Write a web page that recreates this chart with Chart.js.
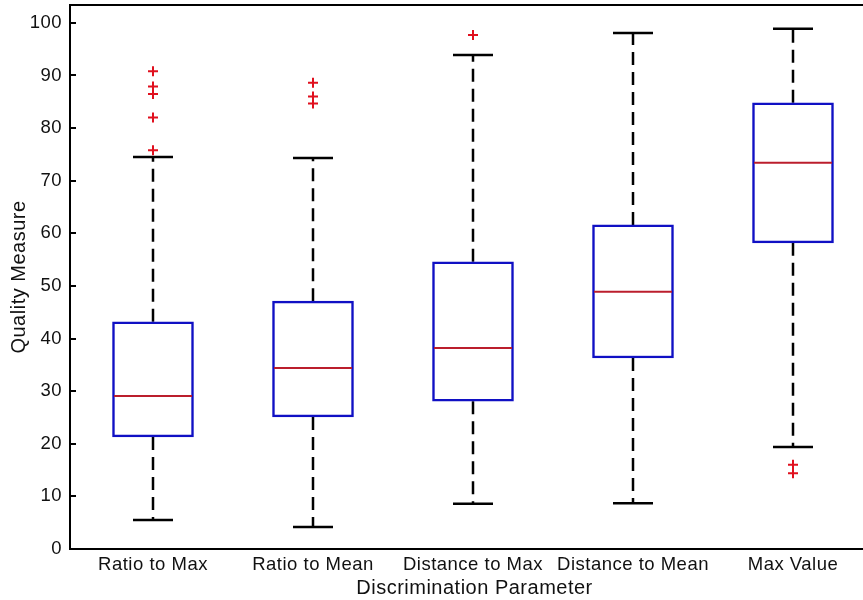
<!DOCTYPE html>
<html>
<head>
<meta charset="utf-8">
<script src="https://cdn.jsdelivr.net/npm/chart.js@4.4.1/dist/chart.umd.min.js"></script>
<style>
    html, body { margin: 0; background: #fff; overflow: hidden; }
    #wrap { width: 863px; height: 600px; overflow: hidden; }
</style>
</head>
<body>
<div id="wrap"><canvas id="chart" width="879" height="600"></canvas></div>
<script>
// box plot statistics
const categories = ['Ratio to Max', 'Ratio to Mean', 'Distance to Max', 'Distance to Mean', 'Max Value'];
const whiskerLow = [5.5, 4.2, 8.6, 8.7, 19.4];
const quart1 = [21.3, 25.1, 28.1, 36.3, 58.2];
const medians = [29.1, 34.4, 38.2, 48.9, 73.4];
const quart3 = [43.2, 47.1, 54.6, 61.6, 84.8];
const whiskerHigh = [74.5, 74.3, 93.9, 98.1, 98.9];
const outliers = [
    [75.8, 82.0, 86.5, 87.9, 90.8],
    [84.7, 86.0, 88.6],
    [97.7],
    [],
    [14.4, 16.0]
];
const yTicks = [0, 10, 20, 30, 40, 50, 60, 70, 80, 90, 100];

const textColor = '#111111';
const fontFamily = '"Liberation Sans", Arial, sans-serif';

let boxData = categories.map((c, i) => ({x: i + 1, y: [quart1[i], quart3[i]]}));
let medianData = categories.map((c, i) => ({x: i + 1, y: medians[i]}));
let capData = [];
let whiskerData = [];
let outlierData = [];
for (var i = 0; i < categories.length; i++) {
    capData.push({x: i + 1, y: whiskerLow[i]}, {x: i + 1, y: whiskerHigh[i]});
    whiskerData.push({x: i + 1, y: quart3[i]}, {x: i + 1, y: whiskerHigh[i]}, {x: i + 1, y: null});
    whiskerData.push({x: i + 1, y: quart1[i]}, {x: i + 1, y: whiskerLow[i]}, {x: i + 1, y: null});
    for (var j = 0; j < outliers[i].length; j++) {
        outlierData.push({x: i + 1, y: outliers[i][j]});
    }
}

function noPadding(s) {
    s.paddingLeft = 0;
    s.paddingRight = 0;
    s.paddingTop = 0;
    s.paddingBottom = 0;
}

// matlab style frame: inward y ticks and a top border
const framePlugin = {
    id: 'frame',
    beforeDraw(chart) {
        chart.ctx.letterSpacing = '0.5px';
    },
    afterDraw(chart) {
        const ctx = chart.ctx;
        const area = chart.chartArea;
        const y = chart.scales.y;
        ctx.save();
        ctx.strokeStyle = '#000';
        ctx.lineWidth = 2;
        ctx.beginPath();
        ctx.moveTo(area.left - 1, area.top);
        ctx.lineTo(area.right, area.top);
        yTicks.forEach(v => {
            const py = Math.round(y.getPixelForValue(v));
            ctx.moveTo(area.left, py);
            ctx.lineTo(area.left + 6, py);
        });
        ctx.stroke();
        ctx.restore();
    }
};

const ctx = document.getElementById('chart');
let chart = new Chart(ctx, {
    data: {
        datasets: [
            {
                type: 'line',
                data: whiskerData,
                borderColor: '#000',
                borderWidth: 2.5,
                borderDash: [13, 7],
                pointRadius: 0,
                spanGaps: false,
                order: 4
            },
            {
                type: 'bar',
                data: boxData,
                backgroundColor: '#ffffff',
                borderColor: '#1010c4',
                borderWidth: 2.5,
                borderSkipped: false,
                barThickness: 81,
                order: 3
            },
            {
                type: 'scatter',
                data: capData,
                pointStyle: 'line',
                pointRadius: 20,
                borderColor: '#000',
                borderWidth: 2.5,
                order: 2
            },
            {
                type: 'scatter',
                data: medianData,
                pointStyle: 'line',
                pointRadius: 39,
                borderColor: '#bb1e2c',
                borderWidth: 2,
                order: 1
            },
            {
                type: 'scatter',
                data: outlierData,
                pointStyle: 'cross',
                pointRadius: 5,
                borderColor: '#e0101e',
                borderWidth: 2,
                order: 0
            }
        ]
    },
    options: {
        responsive: false,
        animation: false,
        layout: { autoPadding: false, padding: { top: 5, left: 0, right: 0, bottom: 0 } },
        plugins: {
            legend: { display: false },
            tooltip: { enabled: false }
        },
        scales: {
            x: {
                type: 'linear',
                offset: false,
                min: 0.48125,
                max: 5.5375,
                grid: { display: false, offset: false },
                border: { color: '#000', width: 2 },
                afterBuildTicks: s => { s.ticks = categories.map((c, i) => ({value: i + 1})); },
                afterFit: s => { s.height = 51; noPadding(s); },
                ticks: {
                    autoSkip: false,
                    maxRotation: 0,
                    padding: -3,
                    color: textColor,
                    font: { family: fontFamily, size: 18.5 },
                    callback: (v, i) => categories[i]
                },
                title: {
                    display: true,
                    text: 'Discrimination Parameter',
                    color: textColor,
                    font: { family: fontFamily, size: 20 },
                    padding: { top: 0, bottom: 0 }
                }
            },
            y: {
                min: 0,
                max: 103.4,
                grid: { display: false },
                border: { color: '#000', width: 2 },
                afterBuildTicks: s => { s.ticks = yTicks.map(v => ({value: v})); },
                afterFit: s => { s.width = 70; noPadding(s); },
                ticks: {
                    padding: 0,
                    color: textColor,
                    font: { family: fontFamily, size: 18.5 }
                },
                title: {
                    display: true,
                    text: 'Quality Measure',
                    color: textColor,
                    font: { family: fontFamily, size: 20 },
                    padding: { top: 7, bottom: 0 }
                }
            }
        }
    },
    plugins: [framePlugin]
});
</script>
</body>
</html>
